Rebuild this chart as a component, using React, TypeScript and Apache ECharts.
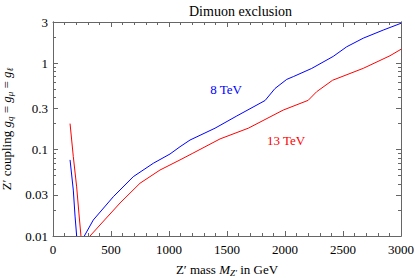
import React, { useEffect, useRef } from "react";
import * as echarts from "echarts";

// ---- data ----
const massBlueLow = [147, 175, 190, 204];
const couplingBlueLow = [0.076, 0.034, 0.017, 0.01];
const massBlue = [270, 347, 520, 692, 865, 1009, 1095, 1181, 1397, 1584, 1828, 1914, 2015, 2072, 2230, 2416, 2532, 2675, 2847, 3000];
const couplingBlue = [0.01, 0.0153, 0.0285, 0.0486, 0.0695, 0.089, 0.108, 0.129, 0.177, 0.245, 0.37, 0.51, 0.65, 0.7, 0.87, 1.2, 1.55, 1.95, 2.42, 2.9];

const massRedLow = [147, 175, 204, 224, 241];
const couplingRedLow = [0.2, 0.083, 0.037, 0.018, 0.01];
const massRed = [319, 405, 578, 750, 922, 1095, 1200, 1440, 1684, 1985, 2200, 2273, 2410, 2675, 2905, 3000];
const couplingRed = [0.01, 0.0134, 0.0241, 0.0408, 0.058, 0.076, 0.09, 0.133, 0.177, 0.287, 0.372, 0.468, 0.635, 0.873, 1.22, 1.45];

const yMajorTicks = [0.01, 0.03, 0.1, 0.3, 1, 3];
const yMinorTicks = [0.02, 0.04, 0.05, 0.06, 0.07, 0.08, 0.09, 0.2, 0.4, 0.5, 0.6, 0.7, 0.8, 0.9, 2];

const FONT = "Liberation Serif";
const FRAME = "#666666";
const BLUE = "#0000ff";
const RED = "#ff0000";

const pair = (xs: number[], ys: number[]) => xs.map((x, i) => [x, ys[i]]);

export default function App() {
  const ref = useRef<HTMLDivElement>(null);
  useEffect(() => {
    if (!ref.current) return;
    const chart = echarts.init(ref.current, null, { renderer: "svg" });

    const yBase = (pos: "left" | "right", ticks: number[], len: number, labels: boolean) => ({
      type: "log",
      logBase: 10,
      min: 0.01,
      max: 3,
      position: pos,
      splitLine: { show: false },
      axisLine: { show: true, lineStyle: { color: FRAME, width: 1 } },
      axisTick: { show: true, inside: true, length: len, customValues: ticks, lineStyle: { color: FRAME } },
      axisLabel: labels
        ? {
            show: true,
            customValues: yMajorTicks,
            formatter: (v: number) => String(v),
            fontFamily: FONT,
            fontSize: 13,
            color: "#000",
            margin: 5,
          }
        : { show: false },
    });

    const xBase = (pos: "bottom" | "top", labels: boolean) => ({
      type: "value",
      min: 0,
      max: 3000,
      interval: 500,
      position: pos,
      splitLine: { show: false },
      axisLine: { show: true, onZero: false, lineStyle: { color: FRAME, width: 1 } },
      axisTick: { show: true, inside: true, length: 5, lineStyle: { color: FRAME } },
      minorTick: { show: true, splitNumber: 5, length: 3, lineStyle: { color: FRAME } },
      minorSplitLine: { show: false },
      axisLabel: labels
        ? { show: true, fontFamily: FONT, fontSize: 13, color: "#000", margin: 7, formatter: (v: number) => String(v) }
        : { show: false },
    });

    const lineSeries = (data: number[][], color: string) => ({
      type: "line",
      data,
      xAxisIndex: 0,
      yAxisIndex: 0,
      showSymbol: false,
      symbol: "none",
      clip: true,
      lineStyle: { color, width: 1 },
      itemStyle: { color },
    });

    const richName = {
      r: { fontFamily: FONT, fontSize: 13, color: "#000", lineHeight: 16 },
      i: { fontFamily: FONT, fontSize: 13, fontStyle: "italic", color: "#000", lineHeight: 16 },
      s: { fontFamily: FONT, fontSize: 9, fontStyle: "italic", color: "#000", verticalAlign: "bottom", lineHeight: 16 },
    };

    chart.setOption({
      animation: false,
      textStyle: { fontFamily: FONT },
      title: {
        text: "Dimuon exclusion",
        left: 184,
        top: -1,
        textStyle: { fontFamily: FONT, fontSize: 14, fontWeight: "normal", color: "#000" },
      },
      grid: { left: 53, right: 14, top: 22, bottom: 42, containLabel: false, outerBoundsMode: "none" },
      xAxis: [
        {
          ...xBase("bottom", true),
          name: "{r|Z′ mass }{i|M}{s|Z′}{r| in GeV}",
          nameLocation: "middle",
          nameGap: 25,
          nameTextStyle: { fontFamily: FONT, fontSize: 13, color: "#000", lineHeight: 16, rich: richName },
        },
        xBase("top", false),
      ],
      yAxis: [
        {
          ...yBase("left", yMajorTicks, 5, true),
          name: "{r|Z′ coupling }{i|g}{s|q}{r| = }{i|g}{s|μ}{r| = }{i|g}{s|ℓ}",
          nameLocation: "middle",
          nameGap: 32,
          nameTextStyle: { fontFamily: FONT, fontSize: 13, color: "#000", lineHeight: 16, rich: richName },
        },
        yBase("left", yMinorTicks, 3, false),
        yBase("right", yMajorTicks, 5, false),
        yBase("right", yMinorTicks, 3, false),
      ],
      series: [
        lineSeries(pair(massBlueLow, couplingBlueLow), BLUE),
        lineSeries(pair(massBlue, couplingBlue), BLUE),
        lineSeries(pair(massRedLow, couplingRedLow), RED),
        lineSeries(pair(massRed, couplingRed), RED),
      ],
      graphic: [
        {
          type: "text",
          x: 226,
          y: 89,
          style: { text: "8 TeV", fill: BLUE, fontFamily: FONT, fontSize: 13, textAlign: "center", textVerticalAlign: "middle" },
        },
        {
          type: "text",
          x: 286,
          y: 140,
          style: { text: "13 TeV", fill: RED, fontFamily: FONT, fontSize: 13, textAlign: "center", textVerticalAlign: "middle" },
        },
      ],
    });
    return () => chart.dispose();
  }, []);
  return <div ref={ref} style={{ width: 415, height: 278, position: "absolute", left: 0, top: 0 }} />;
}
